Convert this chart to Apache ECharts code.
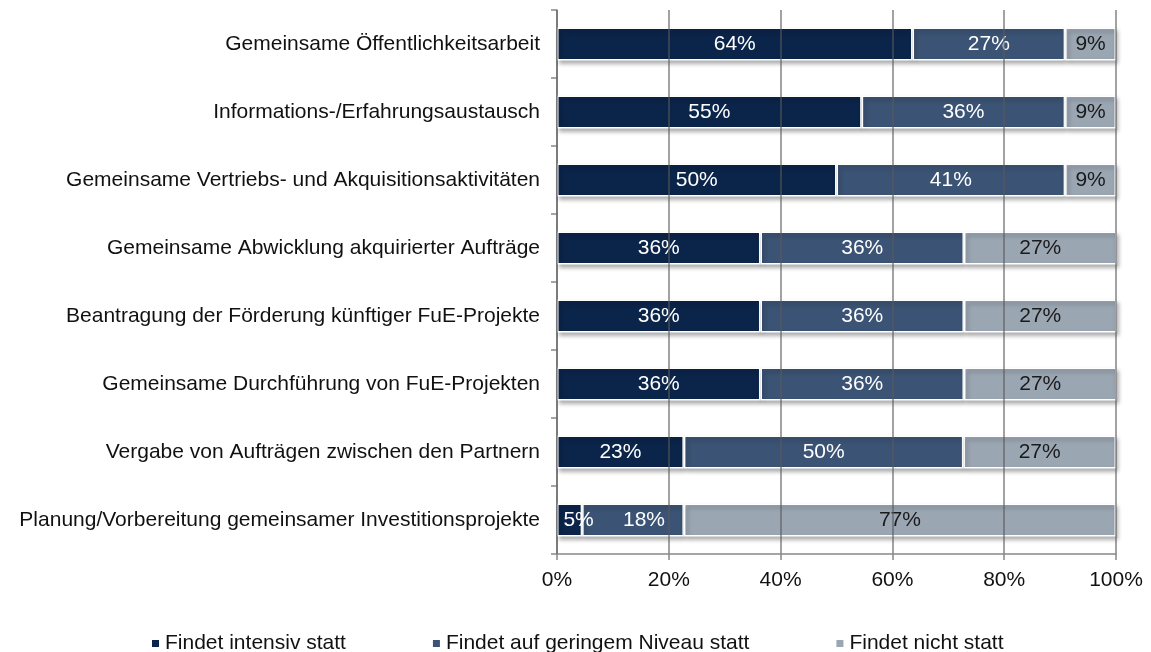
<!DOCTYPE html>
<html>
<head>
<meta charset="utf-8">
<script src="https://cdn.jsdelivr.net/npm/echarts@6/dist/echarts.min.js"></script>
<style>
  html, body { margin: 0; padding: 0; background: #fff; }
  #chart { width: 1151px; height: 652px; }
</style>
</head>
<body>
<div id="chart"></div>
<script>
// categories, top to bottom
var categories = [
    'Gemeinsame Öffentlichkeitsarbeit',
    'Informations-/Erfahrungsaustausch',
    'Gemeinsame Vertriebs- und Akquisitionsaktivitäten',
    'Gemeinsame Abwicklung akquirierter Aufträge',
    'Beantragung der Förderung künftiger FuE-Projekte',
    'Gemeinsame Durchführung von FuE-Projekten',
    'Vergabe von Aufträgen zwischen den Partnern',
    'Planung/Vorbereitung gemeinsamer Investitionsprojekte'
];

var seriesNames = ['Findet intensiv statt', 'Findet auf geringem Niveau statt', 'Findet nicht statt'];

// shares in percent
var intensiv = [63.6, 54.5, 50.0, 36.4, 36.4, 36.4, 22.7, 4.5];
var gering   = [27.3, 36.4, 40.9, 36.4, 36.4, 36.4, 50.0, 18.2];
var nicht    = [9.1, 9.1, 9.1, 27.3, 27.3, 27.3, 27.3, 77.3];

var xTicks = [0, 20, 40, 60, 80, 100];

var colors = ['#0b2449', '#3b5374', '#9ba6b3'];
var labelColors = ['#fff', '#fff', '#1a1a1a'];
var font = 'Liberation Sans, Arial';

// small bars in the last row: labels are nudged to the right like in the original
var labelNudge = [{ 7: 9 }, { 7: 11 }, {}];

function makeSeries(i, values) {
    var data = values.map(function (v, k) {
        if (labelNudge[i][k]) {
            return { value: v, label: { offset: [labelNudge[i][k], 0] } };
        }
        return v;
    });
    return {
        name: seriesNames[i],
        type: 'bar',
        stack: 'total',
        barWidth: 33,
        data: data,
        itemStyle: {
            color: colors[i],
            borderColor: '#fff',
            borderWidth: 1.5,
            shadowColor: 'rgba(0, 0, 0, 0.3)',
            shadowBlur: 4,
            shadowOffsetX: 2,
            shadowOffsetY: 3
        },
        label: {
            show: true,
            position: 'inside',
            color: labelColors[i],
            fontFamily: font,
            fontSize: 21,
            formatter: function (p) { return Math.round(p.value) + '%'; }
        }
    };
}

var myChart = echarts.init(document.getElementById('chart'));

var option = {
    backgroundColor: '#fff',
    animation: false,
    grid: {
        left: 557,
        right: 35,
        top: 10,
        bottom: 98
    },
    legend: {
        data: seriesNames,
        left: 145,
        top: 628,
        icon: 'rect',
        itemWidth: 9,
        itemHeight: 9,
        itemGap: 85,
        textStyle: { fontFamily: font, fontSize: 21, color: '#111' }
    },
    xAxis: {
        type: 'value',
        min: xTicks[0],
        max: xTicks[xTicks.length - 1],
        interval: 20,
        z: 3,
        axisLine: { show: true, lineStyle: { color: '#888', width: 1.5 } },
        axisTick: { show: true, length: 6, lineStyle: { color: '#888', width: 1.5 } },
        axisLabel: {
            margin: 16,
            fontFamily: font,
            fontSize: 21,
            color: '#111',
            formatter: '{value}%'
        },
        splitLine: { show: true, lineStyle: { color: 'rgba(90, 90, 90, 0.75)', width: 1.5 } }
    },
    yAxis: {
        type: 'category',
        data: categories,
        inverse: true,
        axisLine: { show: true, lineStyle: { color: '#888', width: 1.5 } },
        axisTick: { show: true, length: 6, lineStyle: { color: '#888', width: 1.5 } },
        axisLabel: {
            margin: 17,
            fontFamily: font,
            fontSize: 21,
            color: '#111'
        }
    },
    series: [
        makeSeries(0, intensiv),
        makeSeries(1, gering),
        makeSeries(2, nicht)
    ]
};

myChart.setOption(option);
</script>
</body>
</html>
